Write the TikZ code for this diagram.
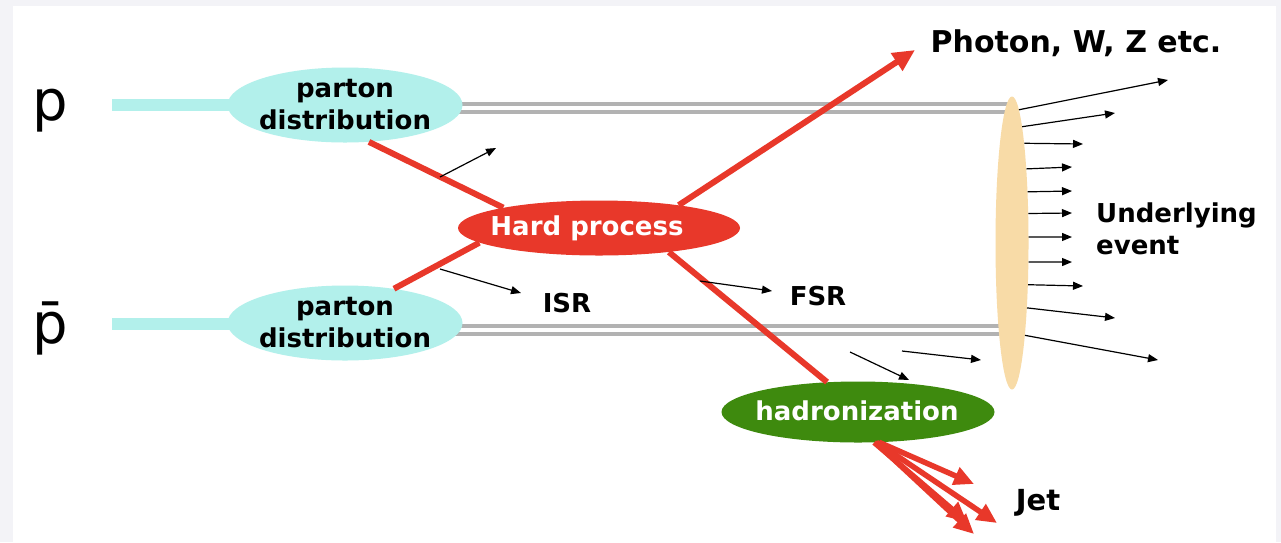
\documentclass[tikz,border=0pt]{standalone}
\usepackage{fontspec}
\setmainfont{DejaVu Sans}
\usetikzlibrary{shapes.geometric,arrows.meta,backgrounds,calc}

\definecolor{bggrey}{RGB}{243,243,247}
\definecolor{pdcyan}{RGB}{178,240,235}
\definecolor{hardred}{RGB}{232,56,42}
\definecolor{hadgreen}{RGB}{62,138,14}
\definecolor{uewheat}{RGB}{248,219,167}

\begin{document}
\begin{tikzpicture}[x=1pt,y=-1pt,
  blob/.style={ellipse, inner sep=0pt, draw=none},
  lbl/.style={font=\fontsize{26}{32}\selectfont\bfseries, align=center, inner sep=0pt},
  beam/.style={draw=gray!60, line width=4pt, double=white, double distance=4pt},
  redline/.style={draw=hardred, line width=6pt},
  redarrow/.style={draw=hardred, line width=5.5pt, -{Triangle[length=20pt,width=18pt]}},
  smallarrow/.style={draw=black, line width=1.2pt, -{Triangle[length=10pt,width=8pt]}},
  cyanbeam/.style={draw=pdcyan, line width=12pt}
]
\useasboundingbox (0,0) rectangle (1281,542);

% ellipses
\node[blob, fill=pdcyan, minimum width=235pt, minimum height=75pt] (pd1) at (345,105) {};
\node[blob, fill=pdcyan, minimum width=235pt, minimum height=75pt] (pd2) at (345,323) {};
\node[blob, fill=hardred, minimum width=282pt, minimum height=55pt] (hard) at (599,228) {};
\node[blob, fill=hadgreen, minimum width=273pt, minimum height=61pt] (had) at (858,412) {};
\node[blob, fill=uewheat, minimum width=33pt, minimum height=293pt] (ue) at (1012,243) {};

% free ends
\coordinate (pin)  at (112,105);
\coordinate (pbin) at (112,324);
\coordinate (b1) at (0,108);
\coordinate (b2) at (0,330);
\coordinate (photontip) at (915,50);
\coordinate (jet1) at (974,484);
\coordinate (jet2) at (997,523);
\coordinate (jet3) at (967,522);
\coordinate (jet4) at (974,534);

\begin{scope}[on background layer]
  \fill[bggrey] (0,0) rectangle (1281,542);
  \fill[white] (13,6) rectangle (1276,542);
  \draw[cyanbeam] (pin) -- (pd1.center);
  \draw[cyanbeam] (pbin) -- (pd2 |- pbin);
  \draw[beam] (pd1 |- b1) -- (ue |- b1);
  \draw[beam] (pd2 |- b2) -- (ue |- b2);
\end{scope}

% red parton lines
\draw[redline] (pd1.-57) -- (hard.168);
\draw[redline] (pd2.35) -- (hard.187);
\draw[redline] (hard.-19) -- (had.136);
\draw[redarrow, line width=6pt, -{Triangle[length=22pt,width=20pt]}] (hard.16) -- (photontip);
\draw[redarrow] (had.-55) -- (jet1);
\draw[redarrow] (had.-58) -- (jet2);
\draw[redarrow] (had.-62) -- (jet3);
\draw[redarrow] (had.-60) -- (jet4);

% small radiation arrows
\coordinate (a1s) at (440,177);  \coordinate (a1e) at (496,148);
\coordinate (isrs) at (440,269); \coordinate (isre) at (521,293);
\coordinate (fsrs) at (700,281); \coordinate (fsre) at (772,291);
\coordinate (l1s) at (850,352);  \coordinate (l1e) at (909,380);
\coordinate (l2s) at (902,351);  \coordinate (l2e) at (981,360);
\draw[smallarrow] (a1s) -- (a1e);
\draw[smallarrow] (isrs) -- (isre);
\draw[smallarrow] (fsrs) -- (fsre);
\draw[smallarrow] (l1s) -- (l1e);
\draw[smallarrow] (l2s) -- (l2e);

% underlying event fan
\foreach \ang/\ex/\ey [count=\i] in {87.4/1168/80, 85.6/1115/113, 83/1083/144, 79.5/1072/167, 73.5/1072/191, 61.7/1072/213, 20/1072/237, -49.2/1072/262, -69.8/1083/286, -77.6/1115/318, -82.3/1158/360}{
  \coordinate (uee\i) at (\ex,\ey);
  \draw[smallarrow] (ue.\ang) -- (uee\i);
}

% texts
\node[font=\fontsize{56}{56}\selectfont, anchor=base, inner sep=0pt] (plbl) at (50,120) {p};
\node[font=\fontsize{56}{56}\selectfont, anchor=base, inner sep=0pt] (pbarlbl) at (50,343) {\={p}};
\node[lbl] (pd1t) at (pd1.center) {parton\\distribution};
\node[lbl] (pd2t) at (pd2.center) {parton\\distribution};
\node[lbl, text=white] (hardt) at (587,228) {Hard process};
\node[lbl, text=white] (hadt) at (857,411) {hadronization};
\node[lbl, font=\fontsize{30}{34}\selectfont\bfseries] (photon) at (1076,43) {Photon, W, Z etc.};
\node[lbl, align=left, anchor=west] (uelbl) at (1096,229) {Underlying\\event};
\node[lbl] (isr) at (567,303) {ISR};
\node[lbl] (fsr) at (818,296) {FSR};
\node[lbl, font=\fontsize{29}{34}\selectfont\bfseries] (jet) at (1038,503) {Jet};
\end{tikzpicture}
\end{document}
